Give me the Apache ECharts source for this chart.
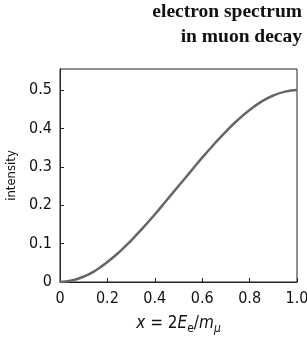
<!DOCTYPE html>
<html>
<head>
<meta charset="utf-8">
<script src="https://cdn.jsdelivr.net/npm/echarts@6/dist/echarts.min.js"></script>
<style>
  html, body { margin: 0; padding: 0; background: #fff; }
  #chart { width: 307px; height: 344px; }
</style>
</head>
<body>
<div id="chart"></div>
<script>
// x = 2E_e / m_mu
const xValues = [0, 0.05, 0.1, 0.15, 0.2, 0.25, 0.3, 0.35, 0.4, 0.45, 0.5,
                 0.55, 0.6, 0.65, 0.7, 0.75, 0.8, 0.85, 0.9, 0.95, 1.0];
const intensity = [0, 0.004, 0.014, 0.030, 0.052, 0.078, 0.108, 0.141, 0.176, 0.213, 0.25,
                   0.287, 0.324, 0.359, 0.392, 0.422, 0.448, 0.470, 0.486, 0.496, 0.5];
const xTicks = [0, 0.2, 0.4, 0.6, 0.8, 1.0];
const yTicks = [0, 0.1, 0.2, 0.3, 0.4, 0.5];
const titleLines = ['electron spectrum', 'in muon decay'];

const labelFont = '"Liberation Sans Narrow", "DejaVu Sans Condensed", sans-serif';
const titleFont = 'bold 19.5px "Liberation Serif", "DejaVu Serif", serif';

let chart = echarts.init(document.getElementById('chart'), null, {renderer: 'canvas'});

chart.setOption({
    animation: false,
    graphic: titleLines.map((t, i) => ({
        type: 'text',
        right: 5,
        top: 2 + i * 25,
        style: {text: t, font: titleFont, fill: '#111', textAlign: 'right'}
    })),
    grid: {
        left: 60,
        right: 10,
        top: 69,
        bottom: 62,
        outerBoundsMode: 'none',
        containLabel: false,
        show: true,
        borderColor: '#222',
        borderWidth: 1,
        backgroundColor: 'transparent'
    },
    xAxis: {
        type: 'value',
        min: 0,
        max: 1,
        interval: 0.2,
        name: '{i|x} = 2{i|E}{s|e}/{i|m}{m|μ}',
        nameLocation: 'middle',
        nameGap: 31,
        nameTextStyle: {
            fontFamily: labelFont,
            fontSize: 17,
            color: '#111',
            rich: {
                i: {fontFamily: labelFont, fontStyle: 'italic', fontSize: 17, color: '#111'},
                s: {fontFamily: labelFont, fontSize: 12, color: '#111', verticalAlign: 'bottom', padding: [6, 0, 0, 0]},
                m: {fontFamily: labelFont, fontStyle: 'italic', fontSize: 12, color: '#111', verticalAlign: 'bottom', padding: [10, 0, 0, 0]}
            }
        },
        axisLine: {lineStyle: {color: '#222', width: 1}},
        axisTick: {inside: true, length: 4, lineStyle: {color: '#222'}},
        splitLine: {show: false},
        axisLabel: {
            fontFamily: labelFont,
            fontSize: 16,
            color: '#111',
            margin: 9,
            customValues: xTicks,
            formatter: v => v === 0 ? '0' : v.toFixed(1)
        }
    },
    yAxis: {
        type: 'value',
        min: 0,
        max: 0.555,
        interval: 0.1,
        name: 'intensity',
        nameLocation: 'middle',
        nameGap: 42,
        nameRotate: 90,
        nameTextStyle: {fontFamily: labelFont, fontSize: 13, color: '#111'},
        axisLine: {show: true, lineStyle: {color: '#222', width: 1}},
        axisTick: {show: true, inside: true, length: 4, lineStyle: {color: '#222'}, customValues: yTicks},
        splitLine: {show: false},
        axisLabel: {
            fontFamily: labelFont,
            fontSize: 16,
            color: '#111',
            margin: 8,
            customValues: yTicks,
            formatter: v => v === 0 ? '0' : v.toFixed(1)
        }
    },
    series: [{
        type: 'line',
        data: xValues.map((x, i) => [x, intensity[i]]),
        smooth: true,
        showSymbol: false,
        clip: true,
        lineStyle: {color: '#666', width: 2.5}
    }]
});
</script>
</body>
</html>
